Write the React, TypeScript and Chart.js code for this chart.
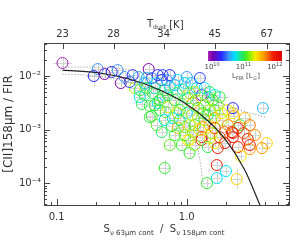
import React, { useEffect, useRef } from 'react';
import { Chart, registerables } from 'chart.js';

Chart.register(...registerables);

// ---------------- data ----------------
// S_nu(63um cont) / S_nu(158um cont)
const ratio63_158 = [
  0.111, 0.207, 0.193, 0.234, 0.294, 0.311, 0.384, 0.427, 0.398, 0.435,
  0.435, 0.510, 0.492, 0.519, 0.519, 0.598, 0.642, 0.588, 0.492, 0.547,
  0.620, 0.598, 0.677, 0.653, 0.740, 0.853, 0.965, 1.09, 0.740, 0.653,
  0.838, 1.05, 1.30, 1.45, 1.58, 0.714, 0.883, 1.11, 1.0, 1.33,
  1.64, 2.07, 0.780, 1.79, 2.26, 3.84, 1.86, 2.26, 2.30, 2.56,
  2.47, 2.26, 2.26, 2.94, 4.12, 3.78, 1.96, 1.05, 1.30, 1.05,
  1.45, 1.73, 1.64, 2.47, 3.05, 3.05, 2.60, 1.70, 2.00, 1.70,
  2.42, 1.43, 0.677, 0.538, 0.567, 0.689, 0.853, 0.965, 1.15, 1.30,
  1.02, 0.965, 1.64, 2.22, 1.50, 0.809, 0.915, 1.02, 1.17, 1.22,
  1.37, 1.50, 1.09, 1.22, 1.37, 1.50, 0.883, 0.767, 1.26, 1.11,
  0.809, 0.714, 0.620, 0.588, 0.642, 0.931, 1.19, 1.37, 1.50, 1.64,
  0.809, 0.702, 0.567, 0.475, 0.538, 1.26, 1.0, 1.15, 1.73, 1.86,
  1.64, 2.07, 1.96, 1.79, 1.56, 1.15, 0.915, 0.740, 0.451, 0.475,
  0.677, 1.05, 1.33, 1.45, 0.853, 2.79, 3.05, 2.74, 3.34, 0.364,
  0.333, 0.265,
];
// [CII]158um / FIR
const ciiFir = [
  0.0175, 0.0135, 0.0100, 0.0109, 0.0129, 0.00740, 0.0104, 0.00958, 0.00597, 0.00548,
  0.00405, 0.0135, 0.00918, 0.00275, 0.00171, 0.0104, 0.00842, 0.00740, 0.00597, 0.00481,
  0.00356, 0.00313, 0.00548, 0.0104, 0.0104, 0.00842, 0.00740, 0.00740, 0.00623, 0.00405,
  0.00481, 0.00481, 0.00441, 0.00405, 0.00356, 0.00263, 0.00231, 0.00313, 0.00203, 0.00203,
  0.00231, 0.00231, 0.00164, 0.00405, 0.00252, 0.00252, 0.00203, 0.00203, 0.00179, 0.00121,
  0.00107, 0.000860, 0.000724, 0.000664, 0.000560, 0.000451, 0.000560, 0.000637, 0.000637, 0.000364,
  0.000471, 0.000451, 0.000560, 0.000471, 0.000513, 0.000432, 0.000320, 0.000217, 0.000168, 0.000124,
  0.000119, 0.000100, 0.000191, 0.00179, 0.00287, 0.00212, 0.00107, 0.00111, 0.00121, 0.000724,
  0.000637, 0.000789, 0.00107, 0.000898, 0.000694, 0.00356, 0.00300, 0.00388, 0.00356, 0.00252,
  0.00287, 0.00231, 0.00187, 0.00164, 0.00151, 0.00121, 0.00151, 0.00116, 0.00098, 0.000898,
  0.000789, 0.00441, 0.00231, 0.00121, 0.000898, 0.00548, 0.00597, 0.00597, 0.00502, 0.00441,
  0.00679, 0.00842, 0.00597, 0.00740, 0.00918, 0.00918, 0.00958, 0.00502, 0.00287, 0.00151,
  0.00164, 0.00121, 0.000898, 0.000724, 0.000860, 0.000513, 0.000513, 0.000513, 0.00300, 0.00441,
  0.00151, 0.00121, 0.00111, 0.00187, 0.00203, 0.00164, 0.00121, 0.000860, 0.000789, 0.00773,
  0.00958, 0.0119,
];
// log10 L_FIR [L_sun]
const logLfir = [
  9.9, 10.53, 10.3, 10.0, 10.53, 10.0, 10.3, 10.62, 11.24, 11.05,
  10.72, 10.0, 10.62, 11.05, 11.05, 10.3, 10.3, 10.72, 11.05, 11.05,
  11.05, 10.72, 11.05, 10.35, 10.3, 10.72, 10.72, 10.72, 10.72, 11.05,
  11.05, 11.24, 10.15, 11.05, 11.05, 11.38, 11.05, 11.66, 10.72, 11.05,
  11.05, 11.38, 10.72, 11.05, 10.3, 10.62, 11.38, 11.38, 11.66, 11.05,
  12.0, 12.0, 12.0, 12.0, 11.47, 11.66, 12.05, 11.38, 12.0, 11.05,
  11.0, 12.0, 11.38, 12.0, 12.0, 11.66, 11.38, 12.0, 10.72, 10.72,
  11.47, 11.05, 11.05, 11.05, 11.05, 11.12, 11.57, 11.12, 11.05, 12.0,
  11.38, 11.12, 12.05, 12.0, 11.38, 11.0, 11.12, 10.95, 11.19, 11.05,
  11.24, 11.24, 11.19, 11.31, 11.12, 11.47, 10.95, 11.05, 11.38, 11.19,
  11.05, 10.95, 11.0, 11.12, 10.95, 10.86, 10.72, 10.72, 11.0, 10.72,
  10.62, 10.53, 10.86, 10.62, 10.45, 10.35, 10.53, 11.24, 11.19, 11.24,
  11.57, 11.66, 11.76, 11.85, 11.24, 11.19, 11.05, 11.12, 11.0, 10.95,
  10.72, 11.31, 11.66, 10.95, 11.24, 11.57, 11.76, 11.85, 11.66, 10.35,
  10.53, 10.3,
];
// typical error (dex) and a few larger ones: [index, xErrDex, yErrDex]
const typicalErrXDex = 0.035;
const typicalErrYDex = 0.08;
const largeErrors = [
  [0, 0.073, 0.093], [1, 0.05, 0.1], [2, 0.06, 0.2], [4, 0.05, 0.12],
  [43, 0.07, 0.1], [70, 0.04, 0.19], [72, 0.04, 0.15],
];

// model curve and envelope
const modelX = [0.111, 0.214, 0.384, 0.620, 0.965, 1.43, 2.00, 2.79, 3.65];
const modelY = [0.0129, 0.0114, 0.00842, 0.00548, 0.00313, 0.00151, 0.000637, 0.000175, 0.0000389];
const upperX = [0.111, 0.203, 0.435, 0.883, 1.73, 2.56, 3.98];
const upperY = [0.0147, 0.0147, 0.0119, 0.00679, 0.00327, 0.00231, 0.00171];
const lowerX = [0.111, 0.203, 0.435, 0.677, 0.780, 0.965, 1.11, 1.22, 1.28, 1.33];
const lowerY = [0.0109, 0.0100, 0.00679, 0.00423, 0.00263, 0.00151, 0.000789, 0.000414, 0.000217, 0.0001];

// axes
const X_MIN = 0.08;
const X_MAX = 6.1;
const Y_MIN = 3.9e-5;
const Y_MAX = 0.0414;
const xTickValues = [0.1, 1];
const xTickLabels = ['0.1', '1.0'];
const yTickValues = [1e-4, 1e-3, 1e-2];
const yTickLabels = ['10⁻⁴', '10⁻³', '10⁻²'];
const tdustPositions = [0.111, 0.274, 0.665, 1.64, 4.12];
const tdustLabels = ['23', '28', '34', '45', '67'];
const cbarTickValues = [10, 11, 12];
const cbarTickExps = ['10', '11', '12'];
const L_MIN = 9.87;
const L_MAX = 12.23;

// ---------------- colour map ----------------
const CMAP: number[][] = [
  [0.0, 175, 40, 190],
  [0.06, 120, 0, 170],
  [0.18, 40, 40, 255],
  [0.28, 60, 150, 255],
  [0.36, 0, 225, 255],
  [0.5, 50, 235, 50],
  [0.58, 160, 240, 0],
  [0.64, 250, 235, 0],
  [0.76, 255, 150, 0],
  [0.88, 240, 30, 0],
  [1.0, 220, 0, 0],
];
function cmap(t: number): string {
  const u = Math.max(0, Math.min(1, t));
  for (let i = 1; i < CMAP.length; i++) {
    if (u <= CMAP[i][0]) {
      const a = CMAP[i - 1], b = CMAP[i];
      const f = (u - a[0]) / (b[0] - a[0]);
      const r = Math.round(a[1] + (b[1] - a[1]) * f);
      const g = Math.round(a[2] + (b[2] - a[2]) * f);
      const bl = Math.round(a[3] + (b[3] - a[3]) * f);
      return `rgb(${r},${g},${bl})`;
    }
  }
  const l = CMAP[CMAP.length - 1];
  return `rgb(${l[1]},${l[2]},${l[3]})`;
}
const colorForL = (L: number) => cmap((L - L_MIN) / (L_MAX - L_MIN));

const FONT = '"DejaVu Sans", sans-serif';
const TEXT = '#333';

function drawPieces(ctx: CanvasRenderingContext2D, pieces: [string, number, number][], cx: number, baseY: number) {
  let total = 0;
  for (const [s, size] of pieces) {
    ctx.font = `${size}px ${FONT}`;
    total += ctx.measureText(s).width;
  }
  let x = cx - total / 2;
  ctx.textAlign = 'left';
  ctx.textBaseline = 'alphabetic';
  for (const [s, size, dy] of pieces) {
    ctx.font = `${size}px ${FONT}`;
    ctx.fillText(s, x, baseY + dy);
    x += ctx.measureText(s).width;
  }
}

const overlayPlugin = {
  id: 'overlay',
  beforeDatasetsDraw(chart: any) {
    const { ctx, chartArea } = chart;
    const x = chart.scales.x, y = chart.scales.y;
    ctx.save();
    ctx.beginPath();
    ctx.rect(chartArea.left, chartArea.top, chartArea.right - chartArea.left, chartArea.bottom - chartArea.top);
    ctx.clip();
    ctx.strokeStyle = '#d4d4d4';
    ctx.lineWidth = 1;
    for (let i = 0; i < ratio63_158.length; i++) {
      let ex = typicalErrXDex, ey = typicalErrYDex;
      for (const e of largeErrors) if (e[0] === i) { ex = e[1]; ey = e[2]; }
      const xv = ratio63_158[i], yv = ciiFir[i];
      const px = Math.round(x.getPixelForValue(xv)) + 0.5;
      const py = Math.round(y.getPixelForValue(yv)) + 0.5;
      ctx.beginPath();
      ctx.moveTo(x.getPixelForValue(xv * Math.pow(10, -ex)), py);
      ctx.lineTo(x.getPixelForValue(xv * Math.pow(10, ex)), py);
      ctx.moveTo(px, y.getPixelForValue(yv * Math.pow(10, -ey)));
      ctx.lineTo(px, y.getPixelForValue(yv * Math.pow(10, ey)));
      ctx.stroke();
    }
    ctx.restore();
  },
  afterDraw(chart: any) {
    const { ctx, chartArea } = chart;
    const x = chart.scales.x, y = chart.scales.y;
    const L = chartArea.left, R = chartArea.right, T = chartArea.top, B = chartArea.bottom;
    ctx.save();
    // frame
    ctx.strokeStyle = '#444';
    ctx.lineWidth = 1;
    ctx.strokeRect(Math.round(L) + 0.5, Math.round(T) + 0.5, Math.round(R - L), Math.round(B - T));
    // ticks
    ctx.beginPath();
    const vtick = (v: number, len: number, bottom: boolean) => {
      const p = Math.round(x.getPixelForValue(v)) + 0.5;
      if (p < L || p > R) return;
      if (bottom) { ctx.moveTo(p, B); ctx.lineTo(p, B - len); }
      else { ctx.moveTo(p, T); ctx.lineTo(p, T + len); }
    };
    const htick = (v: number, len: number) => {
      const p = Math.round(y.getPixelForValue(v)) + 0.5;
      if (p < T || p > B) return;
      ctx.moveTo(L, p); ctx.lineTo(L + len, p);
      ctx.moveTo(R, p); ctx.lineTo(R - len, p);
    };
    for (let d = -2; d <= 0; d++) {
      for (let m = 1; m <= 9; m++) {
        const v = m * Math.pow(10, d);
        if (v < X_MIN || v > X_MAX) continue;
        vtick(v, m === 1 ? 6 : 3, true);
      }
    }
    for (const v of tdustPositions) vtick(v, 6, false);
    for (let d = -5; d <= -2; d++) {
      for (let m = 1; m <= 9; m++) {
        const v = m * Math.pow(10, d);
        if (v < Y_MIN || v > Y_MAX) continue;
        htick(v, m === 1 ? 6 : 3);
      }
    }
    ctx.stroke();

    ctx.fillStyle = TEXT;
    // top title
    ctx.textAlign = 'left';
    ctx.font = `10px ${FONT}`;
    let tx = 147;
    ctx.fillText('T', tx, 27);
    tx += ctx.measureText('T').width;
    ctx.font = `6px ${FONT}`;
    ctx.fillText('dust', tx, 29);
    tx += ctx.measureText('dust').width + 3;
    ctx.font = `10px ${FONT}`;
    ctx.fillText('[K]', tx, 28);

    // x title
    drawPieces(ctx, [
      ['S', 10, 0], ['ν 63μm cont', 7, 3], ['  /  ', 10, 0], ['S', 10, 0], ['ν 158μm cont', 7, 3],
    ], 164, 232);

    // y title
    ctx.save();
    ctx.translate(9, 124);
    ctx.rotate(-Math.PI / 2);
    ctx.font = `12px ${FONT}`;
    ctx.textAlign = 'center';
    ctx.textBaseline = 'middle';
    ctx.fillText('[CII]158μm / FIR', 0, 0);
    ctx.restore();

    // colour bar
    const cbL = 208, cbR = 282, cbT = 51, cbB = 61;
    for (let i = cbL; i < cbR; i++) {
      ctx.fillStyle = cmap((i - cbL + 0.5) / (cbR - cbL));
      ctx.fillRect(i, cbT, 1, cbB - cbT);
    }
    ctx.fillStyle = '#444';
    cbarTickValues.forEach((v, i) => {
      const cx = cbL + ((v - L_MIN) / (L_MAX - L_MIN)) * (cbR - cbL);
      drawPieces(ctx, [['10', 7, 0], [cbarTickExps[i], 5, -3]], cx, 69);
    });
    drawPieces(ctx, [['L', 7, 0], ['FIR', 5, 2], [' [L', 7, 0], ['☉', 5, 2], [']', 7, 0]], 246, 78);
    ctx.restore();
  },
};

export default function App() {
  const ref = useRef<HTMLCanvasElement | null>(null);
  useEffect(() => {
    if (!ref.current) return;
    const points = ratio63_158.map((v, i) => ({ x: v, y: ciiFir[i] }));
    const colors = logLfir.map(colorForL);
    const chart = new Chart(ref.current, {
      type: 'scatter',
      data: {
        datasets: [
          {
            data: modelX.map((v, i) => ({ x: v, y: modelY[i] })),
            showLine: true, borderColor: '#222', borderWidth: 1.2, pointRadius: 0,
            cubicInterpolationMode: 'monotone', fill: false,
          } as any,
          {
            data: upperX.map((v, i) => ({ x: v, y: upperY[i] })),
            showLine: true, borderColor: '#8a8a8a', borderWidth: 1, borderDash: [1, 2], pointRadius: 0,
            cubicInterpolationMode: 'monotone', fill: false,
          } as any,
          {
            data: lowerX.map((v, i) => ({ x: v, y: lowerY[i] })),
            showLine: true, borderColor: '#8a8a8a', borderWidth: 1, borderDash: [1, 2], pointRadius: 0,
            cubicInterpolationMode: 'monotone', fill: false,
          } as any,
          {
            data: points,
            pointRadius: 5.5, pointBorderWidth: 1, pointBackgroundColor: 'rgba(0,0,0,0)',
            pointBorderColor: colors, showLine: false,
          } as any,
        ],
      },
      options: {
        responsive: false,
        animation: false,
        devicePixelRatio: 1,
        layout: { padding: { left: 0, right: 10, top: 0, bottom: 0 } },
        plugins: { legend: { display: false }, tooltip: { enabled: false } },
        scales: {
          x: {
            type: 'logarithmic', position: 'bottom', min: X_MIN, max: X_MAX,
            grid: { display: false, drawTicks: false }, border: { display: false },
            ticks: {
              padding: 6, autoSkip: false, maxRotation: 0, color: TEXT,
              font: { family: FONT, size: 10 },
              callback: (_v: any, i: number) => xTickLabels[i],
            },
            afterBuildTicks: (s: any) => { s.ticks = xTickValues.map((v) => ({ value: v })); },
            afterFit: (s: any) => { s.height = 44; },
          },
          x2: {
            type: 'logarithmic', position: 'top', min: X_MIN, max: X_MAX,
            grid: { display: false, drawTicks: false }, border: { display: false },
            ticks: {
              padding: 3, autoSkip: false, maxRotation: 0, color: TEXT,
              font: { family: FONT, size: 10 },
              callback: (_v: any, i: number) => tdustLabels[i],
            },
            afterBuildTicks: (s: any) => { s.ticks = tdustPositions.map((v) => ({ value: v })); },
            afterFit: (s: any) => { s.height = 43; },
          },
          y: {
            type: 'logarithmic', position: 'left', min: Y_MIN, max: Y_MAX,
            grid: { display: false, drawTicks: false }, border: { display: false },
            ticks: {
              padding: 3, autoSkip: false, color: TEXT,
              font: { family: FONT, size: 10 },
              callback: (_v: any, i: number) => yTickLabels[i],
            },
            afterBuildTicks: (s: any) => { s.ticks = yTickValues.map((v) => ({ value: v })); },
            afterFit: (s: any) => { s.width = 44; },
          },
        },
      } as any,
      plugins: [overlayPlugin],
    });
    return () => chart.destroy();
  }, []);
  return (
    <div style={{ position: 'absolute', left: 0, top: 0, width: 299, height: 249, background: '#fff' }}>
      <canvas ref={ref} width={299} height={249} style={{ display: 'block', width: 299, height: 249 }} />
    </div>
  );
}
